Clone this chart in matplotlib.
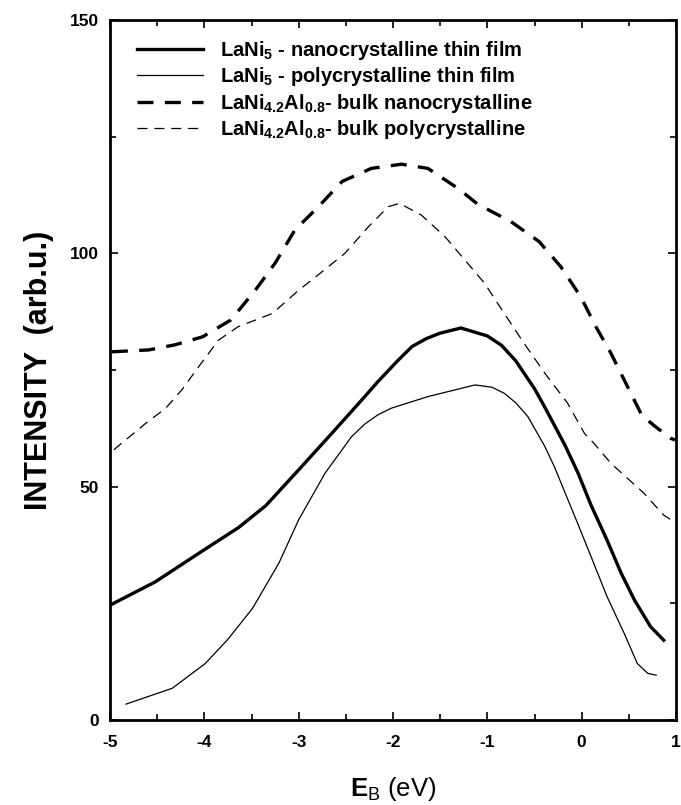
import matplotlib
matplotlib.use("Agg")
import matplotlib.pyplot as plt
from matplotlib.ticker import MultipleLocator

plt.rcParams['font.family'] = ['Liberation Sans', 'DejaVu Sans']
plt.rcParams['mathtext.fontset'] = 'custom'
plt.rcParams['mathtext.rm'] = 'Liberation Sans'
plt.rcParams['mathtext.bf'] = 'Liberation Sans:bold'
plt.rcParams['mathtext.it'] = 'Liberation Sans:italic'
plt.rcParams['mathtext.default'] = 'regular'
plt.rcParams['axes.unicode_minus'] = False
plt.rcParams['font.weight'] = 'bold'

# LaNi5 - nanocrystalline thin film
nano_film_x = [-5.0, -4.52, -4.03, -3.64, -3.35, -3.0, -2.65, -2.33, -2.16, -1.95, -1.80, -1.65,
               -1.50, -1.28, -1.0, -0.85, -0.70, -0.50, -0.39, -0.18, -0.04, 0.10, 0.27, 0.42,
               0.56, 0.73, 0.87]
nano_film_y = [24.6, 29.6, 36.1, 41.2, 45.9, 53.6, 61.4, 68.6, 72.5, 77.0, 80.0, 81.7,
               82.9, 84.0, 82.3, 80.3, 77.0, 71.0, 67.0, 59.0, 53.0, 46.0, 38.5, 31.4,
               25.7, 20.0, 17.1]

# LaNi5 - polycrystalline thin film
poly_film_x = [-4.83, -4.34, -3.99, -3.75, -3.49, -3.21, -3.0, -2.72, -2.44, -2.30, -2.16, -2.02,
               -1.63, -1.13, -0.95, -0.82, -0.70, -0.57, -0.39, -0.29, -0.04, 0.06, 0.27, 0.45,
               0.59, 0.70, 0.79]
poly_film_y = [3.4, 6.8, 12.1, 17.3, 23.9, 33.6, 42.9, 52.9, 60.7, 63.4, 65.4, 66.8,
               69.3, 71.8, 71.3, 70.0, 68.0, 65.0, 58.6, 54.3, 42.0, 37.0, 26.4, 18.6,
               12.1, 10.0, 9.6]

# LaNi4.2Al0.8 - bulk nanocrystalline
nano_bulk_x = [-4.98, -4.59, -4.31, -4.02, -3.72, -3.46, -3.25, -3.04, -2.79, -2.54, -2.23, -1.91,
               -1.63, -1.31, -1.10, -0.75, -0.45, -0.22, -0.01, 0.15, 0.31, 0.45, 0.64, 0.78,
               0.94, 0.99]
nano_bulk_y = [78.9, 79.3, 80.4, 82.1, 85.7, 92.1, 97.9, 105.0, 110.0, 115.4, 118.2, 119.1,
               118.2, 113.9, 110.5, 106.8, 102.5, 97.1, 90.7, 84.3, 78.6, 72.9, 65.2, 62.9,
               60.4, 60.0]

# LaNi4.2Al0.8 - bulk polycrystalline
poly_bulk_x = [-4.96, -4.62, -4.41, -4.24, -4.06, -3.85, -3.64, -3.28, -3.0, -2.86, -2.51, -2.26,
               -2.05, -1.93, -1.70, -1.45, -1.21, -1.03, -0.82, -0.61, -0.39, -0.15, 0.03, 0.13,
               0.31, 0.66, 0.87, 0.98]
poly_bulk_y = [57.9, 63.6, 66.8, 70.7, 75.7, 81.4, 84.3, 87.1, 92.1, 94.3, 100.0, 105.7,
               110.0, 110.7, 108.2, 103.6, 97.9, 93.6, 87.1, 80.7, 74.3, 67.9, 61.4, 59.3,
               55.0, 48.6, 43.9, 42.5]

labels = [r'LaNi$_5$ - nanocrystalline thin film',
          r'LaNi$_5$ - polycrystalline thin film',
          r'LaNi$_{4.2}$Al$_{0.8}$- bulk nanocrystalline',
          r'LaNi$_{4.2}$Al$_{0.8}$- bulk polycrystalline']

fig = plt.figure(figsize=(6.81, 8.05), dpi=100)
ax = fig.add_axes([110/681, 85/805, 566/681, 700/805])

ax.plot(nano_film_x, nano_film_y, color='black', lw=2.4, label=labels[0])
ax.plot(poly_film_x, poly_film_y, color='black', lw=0.9, label=labels[1])
l3, = ax.plot(nano_bulk_x, nano_bulk_y, color='black', lw=2.4, label=labels[2])
l3.set_dashes((4.8, 3.4))
l4, = ax.plot(poly_bulk_x, poly_bulk_y, color='black', lw=0.9, label=labels[3])
l4.set_dashes((8, 5.5))

ax.set_xlim(-5, 1)
ax.set_ylim(0, 150)
ax.xaxis.set_major_locator(MultipleLocator(1))
ax.xaxis.set_minor_locator(MultipleLocator(0.5))
ax.yaxis.set_major_locator(MultipleLocator(50))
ax.yaxis.set_minor_locator(MultipleLocator(25))
ax.tick_params(which='both', direction='in', top=True, right=True, width=1.2)
ax.tick_params(which='major', length=6)
ax.tick_params(which='minor', length=4)
ax.tick_params(axis='x', which='major', pad=11, labelsize=12.5)
ax.tick_params(axis='y', which='major', pad=8, labelsize=12.5)
for sp in ax.spines.values():
    sp.set_linewidth(2)

ax.set_ylabel('INTENSITY  (arb.u.)', fontsize=22, fontweight='bold', labelpad=11)
ax.set_xlabel(r'$\mathbf{E}_B$ (eV)', fontsize=18.5, fontweight='normal', labelpad=18)

leg = ax.legend(loc='upper left', bbox_to_anchor=(0.033, 0.985), frameon=False,
                prop={'weight': 'bold', 'size': 14.5}, handlelength=3.3,
                handletextpad=0.85, labelspacing=0.18, borderaxespad=0)

fig.savefig('out.png', dpi=100)
